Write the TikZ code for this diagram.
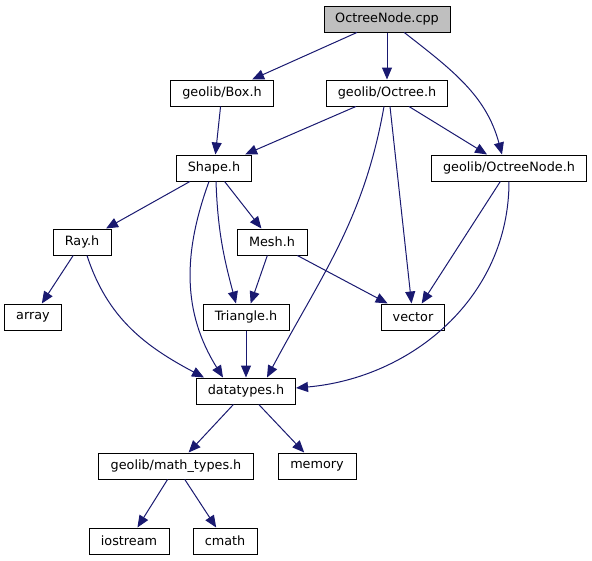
\documentclass[tikz,border=0pt]{standalone}
\usepackage{fontspec}
\setmainfont{DejaVu Sans}
\usetikzlibrary{arrows.meta,positioning}
\definecolor{edge}{HTML}{191970}
\definecolor{root}{HTML}{BFBFBF}

\begin{document}
\begin{tikzpicture}[x=1pt, y=1pt,
		file/.style={rectangle, draw=black, fill=white, line width=1pt,
				minimum height=26pt, inner sep=0pt,
				font=\fontsize{12.8}{15}\selectfont},
		top/.style={file, fill=root},
		dep/.style={-{Triangle[length=12pt, width=10pt]}, line width=1pt, edge},
		]
		\useasboundingbox (0,0) rectangle (592,-560);

		% ---- Fichero raiz ----
		\node[top, minimum width=126pt] (cpp) at (387,-19) {OctreeNode.cpp};

		% ---- Cabeceras geolib ----
		\node[file, minimum width=103pt] (box) at (222,-93) {geolib/Box.h};
		\node[file, minimum width=121pt] (oct) at (387,-93) {geolib/Octree.h};
		\node[file, minimum width=75pt] (shape) at (214,-168) {Shape.h};
		\node[file, minimum width=155pt] (onode) at (509,-168) {geolib/OctreeNode.h};

		\node[file, minimum width=58pt] (ray) at (82,-242) {Ray.h};
		\node[file, minimum width=70pt] (mesh) at (272,-242) {Mesh.h};

		\node[file, minimum width=57pt] (arr) at (33,-317) {array};
		\node[file, minimum width=86pt] (tri) at (246,-317) {Triangle.h};
		\node[file, minimum width=63pt] (vec) at (413,-317) {vector};

		\node[file, minimum width=99pt] (dt) at (246,-391) {datatypes.h};
		\node[file, minimum width=155pt] (math) at (176,-466) {geolib/math\_types.h};
		\node[file, minimum width=78pt] (mem) at (317,-466) {memory};
		\node[file, minimum width=80pt] (ios) at (129,-541) {iostream};
		\node[file, minimum width=64pt] (cm) at (225,-541) {cmath};

		% ---- Inclusiones directas ----
		\draw[dep] (cpp) -- (box);
		\draw[dep] (cpp) -- (oct);
		\draw[dep] (cpp) to[out=-38, in=105] ([xshift=-7pt]onode.north);

		\draw[dep] (box) -- (shape);
		\draw[dep] (oct) -- (shape);
		\draw[dep] (oct) -- (onode);
		\draw[dep] ([xshift=3pt]oct.south) -- (vec);
		\draw[dep] ([xshift=-3pt]oct.south) to[out=-100, in=62] ([xshift=21pt]dt.north);

		\draw[dep] (onode) -- (vec);
		\draw[dep] (onode.south) to[out=-90, in=5] ([yshift=3pt]dt.east);

		\draw[dep] (shape) -- (ray);
		\draw[dep] (shape) -- (mesh);
		\draw[dep] ([xshift=2pt]shape.south) to[out=-88, in=105] ([xshift=-10pt]tri.north);
		\draw[dep] ([xshift=-5pt]shape.south) to[out=-110, in=122] ([xshift=-23pt]dt.north);

		\draw[dep] (ray) -- (arr);
		\draw[dep] ([xshift=5pt]ray.south) to[out=-72, in=152] ([xshift=-42pt]dt.north);

		\draw[dep] (mesh) -- (tri);
		\draw[dep] (mesh) -- (vec);
		\draw[dep] (tri) -- (dt);

		\draw[dep] (dt) -- (math);
		\draw[dep] (dt) -- (mem);
		\draw[dep] (math) -- (ios);
		\draw[dep] (math) -- (cm);

	\end{tikzpicture}
\end{document}
